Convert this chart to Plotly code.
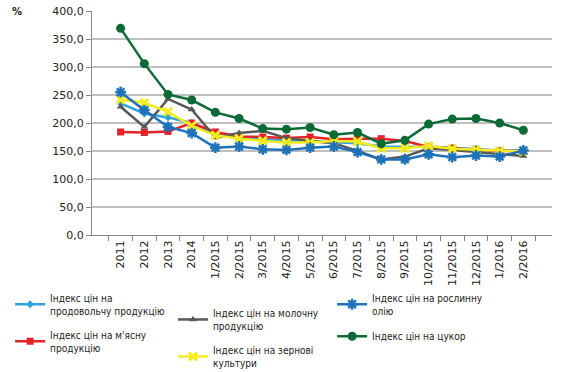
import plotly.graph_objects as go

categories = ["2011", "2012", "2013", "2014", "1/2015", "2/2015", "3/2015", "4/2015",
              "5/2015", "6/2015", "7/2015", "8/2015", "9/2015", "10/2015", "11/2015",
              "12/2015", "1/2016", "2/2016"]

food = [235, 217, 210, 200, 180, 175, 171, 169, 167, 166, 164, 158, 157, 158, 156, 154, 151, 151]
meat = [184, 183, 185, 200, 184, 176, 175, 173, 175, 171, 172, 172, 168, 157, 155, 152, 150, 150]
dairy = [229, 193, 243, 224, 174, 182, 186, 173, 168, 164, 150, 135, 140, 155, 152, 148, 145, 141]
grain = [242, 236, 220, 195, 178, 172, 168, 165, 165, 168, 167, 155, 155, 159, 154, 152, 150, 149]
oil = [255, 223, 193, 182, 156, 158, 153, 152, 156, 158, 148, 135, 135, 144, 139, 142, 140, 151]
sugar = [369, 306, 251, 241, 219, 208, 190, 189, 192, 179, 183, 163, 169, 198, 207, 208, 200, 187]

names = {
    "food": "Індекс цін на<br>продовольчу продукцію",
    "meat": "Індекс цін на м'ясну<br>продукцію",
    "dairy": "Індекс цін на молочну<br>продукцію",
    "grain": "Індекс цін на зернові<br>культури",
    "oil": "Індекс цін на рослинну<br>олію",
    "sugar": "Індекс цін на цукор",
}

yticks = [0, 50, 100, 150, 200, 250, 300, 350, 400]
ytext = ["0,0", "50,0", "100,0", "150,0", "200,0", "250,0", "300,0", "350,0", "400,0"]

series = [
    ("food", food, "#2EA3DD", "diamond", 6, 0, "legend"),
    ("meat", meat, "#E42228", "square", 7, 0, "legend"),
    ("dairy", dairy, "#595959", "triangle-up", 7, 0, "legend2"),
    ("grain", grain, "#F5EC1F", "x-thin-open", 8, 3, "legend2"),
    ("oil", oil, "#1F72BA", "asterisk-open", 9, 2.5, "legend3"),
    ("sugar", sugar, "#0C6A37", "circle", 9, 0, "legend3"),
]

fig = go.Figure()
for key, vals, color, sym, size, lw, leg in series:
    marker = dict(symbol=sym, size=size, color=color)
    if lw:
        marker["line"] = dict(color=color, width=lw)
    fig.add_trace(go.Scatter(
        x=categories, y=vals, mode="lines+markers", name=names[key],
        line=dict(color=color, width=2.5), marker=marker,
        legend=leg, legendgroup=key,
    ))

legfont = dict(family="DejaVu Sans Condensed, DejaVu Sans", size=10, color="#222")
common = dict(orientation="v", yanchor="top", xanchor="left", font=legfont,
              bgcolor="rgba(0,0,0,0)", tracegroupgap=8, itemwidth=30)

fig.update_layout(
    width=570, height=372,
    margin=dict(l=92, r=18, t=11, b=137, autoexpand=False),
    plot_bgcolor="white", paper_bgcolor="white",
    font=dict(family="DejaVu Sans", size=11, color="#222"),
    xaxis=dict(type="category", tickangle=-90, ticks="outside", tickson="boundaries",
               ticklen=5, tickcolor="#888", showline=True, linecolor="#888",
               showgrid=False, tickfont=dict(size=11), automargin=False),
    yaxis=dict(range=[0, 400], tickvals=yticks, ticktext=ytext, showgrid=True,
               gridcolor="#BFBFBF", gridwidth=1.5, showline=True, linecolor="#888",
               ticks="outside", ticklen=5, tickcolor="#888", zeroline=False,
               tickfont=dict(size=11), automargin=False),
    legend=dict(x=-0.178, y=-0.222, **common),
    legend2=dict(x=0.176, y=-0.29, **common),
    legend3=dict(x=0.522, y=-0.222, **common),
    annotations=[dict(text="<b>%</b>", x=-0.163, y=1.0, xref="paper", yref="paper",
                      showarrow=False, xanchor="center", yanchor="middle",
                      font=dict(size=10))],
)

fig.write_html("out.html", config={"displayModeBar": False},
               post_script="document.body.style.margin='0';document.body.style.padding='0';")
